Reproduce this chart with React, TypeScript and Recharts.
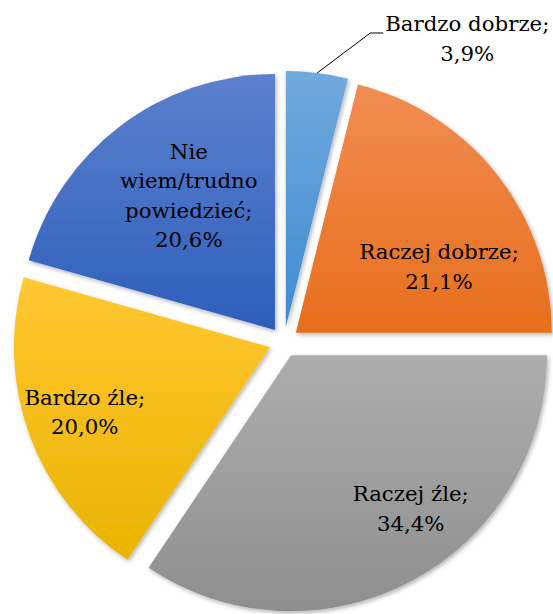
import React from 'react';
import { PieChart, Pie, Cell, Sector } from 'recharts';

const names = ['Bardzo dobrze', 'Raczej dobrze', 'Raczej źle', 'Bardzo źle', 'Nie wiem/trudno powiedzieć'];
const values = [3.9, 21.1, 34.4, 20.0, 20.6];
const labelLines = [['Bardzo dobrze;'], ['Raczej dobrze;'], ['Raczej źle;'], ['Bardzo źle;'], ['Nie', 'wiem/trudno', 'powiedzieć;']];

// gradient top / bottom per slice
const colorsTop = ['#70a9dd', '#f18d52', '#adadad', '#ffc732', '#5c80cd'];
const colorsBottom = ['#3f8bd0', '#e76e1b', '#8e8e8e', '#e9b300', '#2d5fbb'];

// label layout: distance from slice apex and angle nudge (clockwise degrees)
const labelPos = [
  { outside: true, r: 306, nudge: 9 },
  { outside: false, r: 158, nudge: 13 },
  { outside: false, r: 194, nudge: -10 },
  { outside: false, r: 196, nudge: 1 },
  { outside: false, r: 160, nudge: 4.5 },
];

const data = names.map((name, i) => ({ name, value: values[i] }));

const W = 553;
const H = 614;
const CX = 284;
const CY = 342;
const R = 256;
const EXPLODE = 15;
const RAD = Math.PI / 180;
const FONT = '"DejaVu Serif", serif';
const FS = 21.3;
const LH = 29.5;

const polar = (cx: number, cy: number, r: number, angle: number) => ({
  x: cx + r * Math.cos(-angle * RAD),
  y: cy + r * Math.sin(-angle * RAD),
});

const fmt = (v: number) => v.toFixed(1).replace('.', ',') + '%';

const ExplodedSector = (props: any) => {
  const { cx, cy, midAngle } = props;
  const o = polar(0, 0, EXPLODE, midAngle);
  return (
    <g transform={`translate(${o.x},${o.y})`} filter="url(#shadow)">
      <Sector {...props} cx={cx} cy={cy} stroke="none" />
    </g>
  );
};

const renderLabel = (props: any) => {
  const { cx, cy, midAngle, outerRadius, index, value } = props;
  const apex = polar(cx, cy, EXPLODE, midAngle);
  const lp = labelPos[index];
  const lines = [...labelLines[index], fmt(value)];
  const anchor = polar(apex.x, apex.y, lp.r, midAngle - lp.nudge);
  let tx = anchor.x;
  let ty = anchor.y;
  let line = null;
  if (lp.outside) {
    const start = polar(apex.x, apex.y, outerRadius, midAngle);
    const endX = anchor.x + 13;
    line = (
      <polyline
        points={`${start.x},${start.y} ${anchor.x},${anchor.y} ${endX},${anchor.y}`}
        fill="none"
        stroke="#000"
        strokeWidth={1}
      />
    );
    tx = endX + 84;
    ty = anchor.y + 5;
  }
  const n = lines.length;
  return (
    <g key={`lbl-${index}`}>
      {line}
      <text x={tx} y={ty} textAnchor="middle" fontFamily={FONT} fontSize={FS} fill="#000">
        {lines.map((t, i) => (
          <tspan key={i} x={tx} y={ty + (i - (n - 1) / 2) * LH + 8}>
            {t}
          </tspan>
        ))}
      </text>
    </g>
  );
};

export default function App() {
  return (
    <div style={{ position: 'absolute', left: 0, top: 0, width: W, height: H, background: '#fff' }}>
      <PieChart width={W} height={H} margin={{ top: 0, right: 0, bottom: 0, left: 0 }}>
        <defs>
          {colorsTop.map((c, i) => (
            <linearGradient key={i} id={`g${i}`} x1="0" y1="0" x2="0" y2="1">
              <stop offset="0%" stopColor={c} />
              <stop offset="100%" stopColor={colorsBottom[i]} />
            </linearGradient>
          ))}
          <filter id="shadow" x="-10%" y="-10%" width="120%" height="120%">
            <feDropShadow dx="1.5" dy="2" stdDeviation="2" floodColor="#000" floodOpacity="0.3" />
          </filter>
        </defs>
        <Pie
          data={data}
          dataKey="value"
          nameKey="name"
          cx={CX}
          cy={CY}
          outerRadius={R}
          startAngle={90}
          endAngle={-270}
          stroke="none"
          shape={ExplodedSector}
          activeShape={ExplodedSector}
          inactiveShape={ExplodedSector}
          label={renderLabel}
          labelLine={false}
          isAnimationActive={false}
        >
          {data.map((_, i) => (
            <Cell key={`cell-${i}`} fill={`url(#g${i})`} />
          ))}
        </Pie>
      </PieChart>
    </div>
  );
}
